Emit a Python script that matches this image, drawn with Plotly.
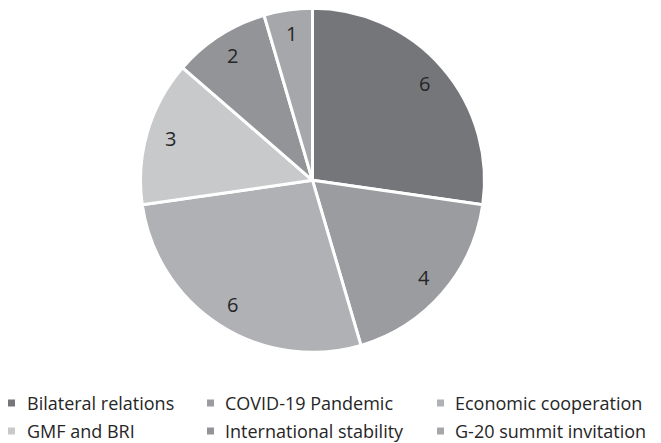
import math
import plotly.graph_objects as go

categories = ["Bilateral relations", "COVID-19 Pandemic", "Economic cooperation",
              "GMF and BRI", "International stability", "G-20 summit invitation"]
values = [6, 4, 6, 3, 2, 1]
colors = ["#75767a", "#9b9c9f", "#b0b1b4", "#c8c9cb", "#939497", "#a6a7aa"]

W, H = 661, 443
cx, cy, R = 312.5, 180.3, 172.0
label_r = 0.86  # label distance from centre, fraction of radius

fig = go.Figure(go.Pie(
    labels=categories, values=values, sort=False, direction="clockwise", rotation=0,
    marker=dict(colors=colors, line=dict(color="white", width=3)),
    textinfo="none", hoverinfo="label+value", showlegend=False,
    domain=dict(x=[(cx - R) / W, (cx + R) / W], y=[1 - (cy + R) / H, 1 - (cy - R) / H]),
))

annotations, shapes = [], []
# value labels at slice mid-angles
total = sum(values)
cum = 0
for v in values:
    mid = (cum + v / 2) / total * 2 * math.pi
    cum += v
    px = cx + label_r * R * math.sin(mid)
    py = cy - label_r * R * math.cos(mid)
    annotations.append(dict(text=str(v), xref="paper", yref="paper",
                            x=px / W, y=1 - py / H, xanchor="center", yanchor="middle",
                            showarrow=False, font=dict(family="Open Sans", size=20, color="#262626")))

# legend drawn as shapes + text, in three columns
col_sq = [8, 207, 437]
col_tx = [25, 223, 453]
row_y = [402.5, 430.5]
for i, (name, col) in enumerate(zip(categories, colors)):
    r, c = divmod(i, 3)
    y = row_y[r]
    shapes.append(dict(type="rect", xref="paper", yref="paper",
                       x0=col_sq[c] / W, x1=(col_sq[c] + 7) / W,
                       y0=1 - (y + 4) / H, y1=1 - (y - 3) / H,
                       fillcolor=col, line=dict(width=0)))
    annotations.append(dict(text=name, xref="paper", yref="paper",
                            x=col_tx[c] / W, y=1 - y / H, xanchor="left", yanchor="middle",
                            showarrow=False, font=dict(family="Open Sans", size=18, color="#262626")))

fig.update_layout(width=W, height=H, margin=dict(l=0, r=0, t=0, b=0),
                  paper_bgcolor="white", plot_bgcolor="white",
                  shapes=shapes, annotations=annotations)
fig.write_html("out.html")
